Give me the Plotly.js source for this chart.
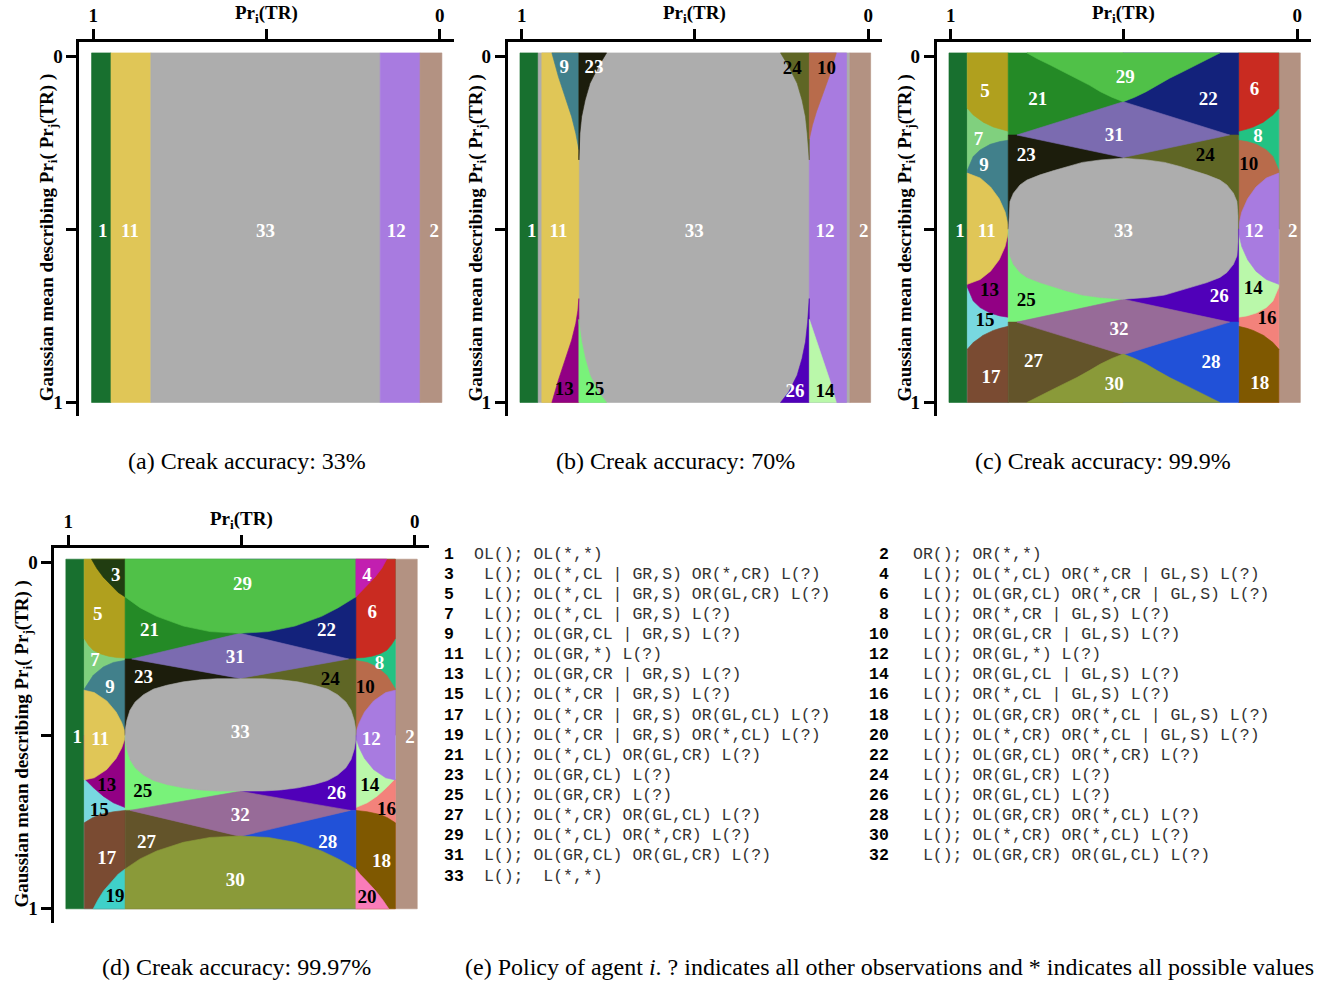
<!DOCTYPE html>
<html><head><meta charset="utf-8">
<script src="https://cdn.plot.ly/plotly-3.0.1.min.js"></script>
<style>html,body{margin:0;padding:0;background:#fff}#chart{width:1326px;height:985px}</style>
</head><body><div id="chart"></div>
<script>
// ================= DATA =================
// x = Pr_i(TR) (1 at left, 0 at right); y = Gaussian mean (0 at top, 1 at bottom)
const mapTop = -0.009, mapBottom = 1.0, midY = 0.5;
const xTickVals = [1, 0];
const xTickText = ['<b>1</b>', '<b>0</b>'];
const yTickVals = [0, 1];
const yTickText = ['<b>0</b>', '<b>1</b>'];
const midTickVals = [0.5];

const regionColor = {
  1:'#18702f', 2:'#b39282', 3:'#213d11', 4:'#c21fb0', 5:'#b0a01e', 6:'#c92b21', 7:'#80d07e',
  8:'#22c283', 9:'#41808b', 10:'#b86b4b', 11:'#e0c657', 12:'#a87be0', 13:'#920084', 14:'#baf8aa',
  15:'#78d8e0', 16:'#f3827b', 17:'#7a4b32', 18:'#7f5800', 19:'#3fd1c9', 20:'#f97cb9', 21:'#248a26',
  22:'#13227b', 23:'#1c1d0c', 24:'#5f6625', 25:'#79f27a', 26:'#5000b9', 27:'#63542a', 28:'#2151d8',
  29:'#50c148', 30:'#8a9a39', 31:'#7b6bb0', 32:'#976b98', 33:'#adadad'
};
const blackLabelIds = [10, 13, 14, 15, 16, 19, 20, 24, 25];

// ---- panel (a): Creak accuracy 33% ----
const a_edges = [1.005, 0.949, 0.834, 0.172, 0.057, -0.006];
const a_bandIds = [1, 11, 33, 12, 2];
const a_labelIds = [1, 11, 33, 12, 2];
const a_labelX = [0.973, 0.894, 0.503, 0.126, 0.016];
const a_labelY = [0.51, 0.51, 0.51, 0.51, 0.51];

// ---- panel (b): Creak accuracy 70% ----
const b_edges = [1.005, 0.954, 0.942, 0.835, 0.170, 0.0625, 0.053, -0.007];
const b_bandIds = [1, 33, 11, 33, 12, 33, 2];
const b_w9_x  = [0.835, 0.913, 0.894, 0.875, 0.856, 0.844, 0.838, 0.835];
const b_w9_y  = [-0.009, -0.009, 0.060, 0.117, 0.175, 0.223, 0.255, 0.270];
const b_w23_x = [0.835, 0.755, 0.779, 0.803, 0.817, 0.827, 0.832, 0.834, 0.835];
const b_w23_y = [-0.009, -0.009, 0.031, 0.079, 0.127, 0.175, 0.223, 0.265, 0.300];
const b_w24_x = [0.170, 0.253, 0.229, 0.205, 0.191, 0.181, 0.176, 0.172, 0.170];
const b_w24_y = [-0.009, -0.009, 0.031, 0.079, 0.127, 0.175, 0.223, 0.265, 0.300];
const b_w10_x = [0.170, 0.092, 0.111, 0.130, 0.149, 0.161, 0.167, 0.170];
const b_w10_y = [-0.009, -0.009, 0.055, 0.107, 0.160, 0.200, 0.225, 0.240];
const b_w13_x = [0.835, 0.913, 0.894, 0.875, 0.856, 0.844, 0.838, 0.835];
const b_w13_y = [1.0, 1.0, 0.935, 0.878, 0.820, 0.772, 0.735, 0.700];
const b_w25_x = [0.835, 0.755, 0.779, 0.803, 0.817, 0.827, 0.832, 0.835];
const b_w25_y = [1.0, 1.0, 0.969, 0.921, 0.873, 0.825, 0.790, 0.760];
const b_w26_x = [0.170, 0.253, 0.229, 0.205, 0.191, 0.181, 0.175, 0.172, 0.170];
const b_w26_y = [1.0, 1.0, 0.969, 0.921, 0.873, 0.825, 0.770, 0.730, 0.700];
const b_w14_x = [0.170, 0.092, 0.111, 0.130, 0.149, 0.161, 0.170];
const b_w14_y = [1.0, 1.0, 0.935, 0.878, 0.820, 0.790, 0.760];
const b_labelIds = [9, 23, 24, 10, 1, 11, 33, 12, 2, 13, 25, 26, 14];
const b_labelX = [0.877, 0.791, 0.219, 0.120, 0.971, 0.894, 0.502, 0.125, 0.013, 0.877, 0.789, 0.211, 0.125];
const b_labelY = [0.036, 0.036, 0.037, 0.037, 0.51, 0.51, 0.51, 0.51, 0.51, 0.965, 0.965, 0.971, 0.971];

// ---- panel (c): Creak accuracy 99.9% ----
const c_edges = [1.005, 0.952, 0.834, 0.169, 0.053, -0.009];
const c_centerX = 0.502, c_splitTop = 0.228, c_splitBottom = 0.768;
const c_arcA_x  = [0.952, 0.935, 0.906, 0.877, 0.858, 0.834];
const c_arcA_y  = [0.151, 0.170, 0.191, 0.205, 0.211, 0.217];
const c_arcB_x  = [0.952, 0.935, 0.915, 0.886, 0.858, 0.834];
const c_arcB_y  = [0.330, 0.290, 0.271, 0.255, 0.247, 0.243];
const c_arcC_y  = [0.667, 0.707, 0.726, 0.742, 0.750, 0.754];
const c_arcD_y  = [0.846, 0.827, 0.806, 0.792, 0.786, 0.780];
const c_arcA2_x = [0.053, 0.070, 0.098, 0.127, 0.145, 0.169];
const c_arcB2_x = [0.053, 0.070, 0.089, 0.118, 0.145, 0.169];
const c_lensL_x = [0.952, 0.915, 0.885, 0.860, 0.843, 0.835, 0.834, 0.835, 0.843, 0.860, 0.885, 0.915, 0.952];
const c_lensR_x = [0.053, 0.089, 0.119, 0.143, 0.160, 0.168, 0.169, 0.168, 0.160, 0.143, 0.119, 0.089, 0.053];
const c_lens_y  = [0.338, 0.352, 0.378, 0.412, 0.450, 0.485, 0.500, 0.515, 0.550, 0.588, 0.621, 0.645, 0.659];
const c_d31_x = [0.809, 0.502, 0.195, 0.502];
const c_d31_y = [0.228, 0.132, 0.228, 0.293];
const c_d32_x = [0.809, 0.502, 0.195, 0.502];
const c_d32_y = [0.768, 0.702, 0.768, 0.862];
const c_cap_x   = [0.780, 0.750, 0.713, 0.675, 0.636, 0.600, 0.568, 0.535, 0.502, 0.469, 0.436, 0.404, 0.368, 0.329, 0.290, 0.254, 0.223];
const c_cap29_y = [-0.009, 0.008, 0.026, 0.045, 0.064, 0.084, 0.103, 0.119, 0.132, 0.119, 0.103, 0.084, 0.064, 0.045, 0.026, 0.008, -0.009];
const c_cap30_y = [1.0, 0.984, 0.966, 0.947, 0.928, 0.908, 0.889, 0.873, 0.860, 0.873, 0.889, 0.908, 0.928, 0.947, 0.966, 0.984, 1.0];
const c_r33_x = [0.833,0.832,0.829,0.819,0.800,0.780,0.742,0.700,0.665,0.620,0.568,0.502,0.435,0.383,0.338,0.303,0.261,0.223,0.203,0.184,0.174,0.171,
                 0.170,0.171,0.174,0.184,0.203,0.223,0.261,0.303,0.338,0.383,0.435,0.502,0.568,0.620,0.665,0.700,0.742,0.780,0.800,0.819,0.829,0.832];
const c_r33_y = [0.500,0.460,0.420,0.396,0.372,0.358,0.343,0.330,0.319,0.307,0.300,0.295,0.300,0.307,0.319,0.330,0.343,0.358,0.372,0.396,0.420,0.460,
                 0.500,0.537,0.577,0.601,0.625,0.639,0.654,0.667,0.678,0.690,0.697,0.702,0.697,0.690,0.678,0.667,0.654,0.639,0.625,0.601,0.577,0.537];
const c_labelIds = [29, 5, 21, 22, 6, 7, 31, 8, 23, 24, 9, 10, 1, 11, 33, 12, 2, 13, 25, 26, 14, 15, 16, 32, 27, 28, 17, 30, 18];
const c_labelX = [0.496, 0.901, 0.749, 0.257, 0.123, 0.920, 0.528, 0.113, 0.782, 0.265, 0.904, 0.140, 0.973, 0.896, 0.501, 0.125, 0.013,
                  0.888, 0.782, 0.225, 0.127, 0.901, 0.087, 0.514, 0.761, 0.249, 0.884, 0.528, 0.108];
const c_labelY = [0.064, 0.106, 0.129, 0.127, 0.098, 0.242, 0.231, 0.235, 0.290, 0.290, 0.319, 0.316, 0.510, 0.510, 0.510, 0.510, 0.510,
                  0.680, 0.709, 0.697, 0.673, 0.766, 0.761, 0.792, 0.885, 0.886, 0.930, 0.949, 0.946];

// ---- panel (d): Creak accuracy 99.97% ----
const d_edges = [1.007, 0.954, 0.836, 0.170, 0.056, -0.007];
const d_centerX = 0.504, d_splitTop = 0.279, d_splitBottom = 0.716;
const d_arcA_x  = [0.954, 0.942, 0.928, 0.908, 0.884, 0.860, 0.836];
const d_arcA2_x = [0.056, 0.068, 0.081, 0.100, 0.124, 0.147, 0.170];
const d_arcA_y  = [0.220, 0.239, 0.254, 0.264, 0.271, 0.275, 0.276];
const d_arcB_x  = [0.954, 0.947, 0.928, 0.899, 0.870, 0.836];
const d_arcB2_x = [0.056, 0.063, 0.081, 0.109, 0.137, 0.170];
const d_arcB_y  = [0.366, 0.355, 0.326, 0.302, 0.289, 0.283];
const d_arcC_x  = [0.954, 0.928, 0.899, 0.870, 0.836];
const d_arcC2_x = [0.056, 0.081, 0.109, 0.137, 0.170];
const d_arcC_y  = [0.624, 0.650, 0.675, 0.694, 0.708];
const d_arcD_x  = [0.954, 0.930, 0.908, 0.870, 0.836];
const d_arcD2_x = [0.056, 0.079, 0.100, 0.137, 0.170];
const d_arcD_y  = [0.752, 0.737, 0.728, 0.720, 0.716];
const d_lensL_x = [0.954, 0.925, 0.889, 0.862, 0.846, 0.838, 0.836, 0.838, 0.846, 0.862, 0.889, 0.925, 0.954];
const d_lensR_x = [0.056, 0.084, 0.119, 0.145, 0.160, 0.168, 0.170, 0.168, 0.160, 0.145, 0.119, 0.084, 0.056];
const d_lens_y  = [0.369, 0.376, 0.400, 0.432, 0.462, 0.485, 0.499, 0.513, 0.536, 0.566, 0.598, 0.622, 0.628];
const d_topArc_x = [0.933, 0.918, 0.899, 0.875, 0.856, 0.836, 0.793, 0.745, 0.668, 0.591, 0.505, 0.423, 0.346, 0.269, 0.221, 0.177, 0.170, 0.158, 0.139, 0.115, 0.095, 0.081];
const d_topArc_y = [-0.009, 0.017, 0.043, 0.069, 0.087, 0.100, 0.131, 0.156, 0.184, 0.200, 0.205, 0.200, 0.184, 0.156, 0.131, 0.104, 0.100, 0.087, 0.069, 0.043, 0.017, -0.009];
const d_botArc_x = [0.928, 0.915, 0.898, 0.875, 0.856, 0.836, 0.793, 0.745, 0.668, 0.591, 0.505, 0.423, 0.346, 0.269, 0.221, 0.177, 0.170, 0.158, 0.139, 0.113, 0.092, 0.075];
const d_botArc_y = [1.0, 0.975, 0.948, 0.920, 0.900, 0.885, 0.856, 0.833, 0.808, 0.794, 0.790, 0.794, 0.808, 0.833, 0.856, 0.881, 0.885, 0.900, 0.920, 0.948, 0.975, 1.0];
const d_d31_x = [0.817, 0.504, 0.191, 0.504];
const d_d31_y = [0.279, 0.205, 0.279, 0.335];
const d_d32_x = [0.822, 0.504, 0.186, 0.504];
const d_d32_y = [0.716, 0.661, 0.716, 0.791];
const d_r33_x = [0.836,0.835,0.831,0.822,0.807,0.783,0.754,0.716,0.668,0.619,0.571,0.504,0.437,0.387,0.338,0.290,0.252,0.223,0.199,0.184,0.175,0.171,
                 0.170,0.171,0.175,0.184,0.199,0.223,0.252,0.290,0.338,0.387,0.437,0.504,0.571,0.619,0.668,0.716,0.754,0.783,0.807,0.822,0.831,0.835];
const d_r33_y = [0.499,0.480,0.456,0.427,0.403,0.382,0.366,0.355,0.345,0.339,0.336,0.335,0.336,0.339,0.345,0.355,0.366,0.382,0.403,0.427,0.456,0.480,
                 0.499,0.516,0.540,0.569,0.593,0.614,0.630,0.641,0.651,0.657,0.660,0.661,0.660,0.657,0.651,0.641,0.630,0.614,0.593,0.569,0.540,0.516];
const d_labelIds = [3, 29, 4, 5, 6, 21, 22, 31, 7, 8, 23, 24, 9, 10, 1, 11, 33, 12, 2, 13, 25, 26, 14, 15, 32, 16, 27, 28, 17, 18, 30, 19, 20];
const d_labelX = [0.863, 0.497, 0.138, 0.915, 0.123, 0.766, 0.255, 0.518, 0.923, 0.102, 0.783, 0.244, 0.880, 0.143, 0.974, 0.908, 0.504, 0.126, 0.014,
                  0.889, 0.785, 0.226, 0.130, 0.911, 0.504, 0.082, 0.774, 0.251, 0.889, 0.096, 0.518, 0.865, 0.138];
const d_labelY = [0.039, 0.066, 0.039, 0.152, 0.147, 0.200, 0.200, 0.276, 0.287, 0.294, 0.335, 0.340, 0.364, 0.364, 0.509, 0.513, 0.494, 0.513, 0.509,
                  0.645, 0.663, 0.668, 0.646, 0.719, 0.732, 0.716, 0.810, 0.810, 0.857, 0.865, 0.921, 0.966, 0.971];

// ---- captions and policy table ----
const captions = ['(a) Creak accuracy: 33%', '(b) Creak accuracy: 70%', '(c) Creak accuracy: 99.9%',
                  '(d) Creak accuracy: 99.97%', '(e) Policy of agent <i>i</i>. ? indicates all other observations and * indicates all possible values'];
const policyLeftIds = [1, 3, 5, 7, 9, 11, 13, 15, 17, 19, 21, 23, 25, 27, 29, 31, 33];
const policyLeftText = ['OL(); OL(*,*)', ' L(); OL(*,CL | GR,S) OR(*,CR) L(?)', ' L(); OL(*,CL | GR,S) OR(GL,CR) L(?)',
  ' L(); OL(*,CL | GR,S) L(?)', ' L(); OL(GR,CL | GR,S) L(?)', ' L(); OL(GR,*) L(?)', ' L(); OL(GR,CR | GR,S) L(?)',
  ' L(); OL(*,CR | GR,S) L(?)', ' L(); OL(*,CR | GR,S) OR(GL,CL) L(?)', ' L(); OL(*,CR | GR,S) OR(*,CL) L(?)',
  ' L(); OL(*,CL) OR(GL,CR) L(?)', ' L(); OL(GR,CL) L(?)', ' L(); OL(GR,CR) L(?)', ' L(); OL(*,CR) OR(GL,CL) L(?)',
  ' L(); OL(*,CL) OR(*,CR) L(?)', ' L(); OL(GR,CL) OR(GL,CR) L(?)', ' L();  L(*,*)'];
const policyRightIds = [2, 4, 6, 8, 10, 12, 14, 16, 18, 20, 22, 24, 26, 28, 30, 32];
const policyRightText = ['OR(); OR(*,*)', ' L(); OL(*,CL) OR(*,CR | GL,S) L(?)', ' L(); OL(GR,CL) OR(*,CR | GL,S) L(?)',
  ' L(); OR(*,CR | GL,S) L(?)', ' L(); OR(GL,CR | GL,S) L(?)', ' L(); OR(GL,*) L(?)', ' L(); OR(GL,CL | GL,S) L(?)',
  ' L(); OR(*,CL | GL,S) L(?)', ' L(); OL(GR,CR) OR(*,CL | GL,S) L(?)', ' L(); OL(*,CR) OR(*,CL | GL,S) L(?)',
  ' L(); OL(GR,CL) OR(*,CR) L(?)', ' L(); OR(GL,CR) L(?)', ' L(); OR(GL,CL) L(?)', ' L(); OL(GR,CR) OR(*,CL) L(?)',
  ' L(); OL(*,CR) OR(*,CL) L(?)', ' L(); OL(GR,CR) OR(GL,CL) L(?)'];

// ================= BUILD =================
const W = 1326, H = 985, S = 346.5;
const SERIF = 'Liberation Serif, Times New Roman, serif';
const MONO = 'Liberation Mono, Courier New, monospace';
const T = mapTop, B = mapBottom;
const traces = [];
function addPoly(ax, id, xs, ys) {
  traces.push({type:'scatter', mode:'lines', x: xs.concat([xs[0]]), y: ys.concat([ys[0]]),
    fill:'toself', fillcolor: regionColor[id], line:{color: regionColor[id], width:0.6},
    hoverinfo:'skip', showlegend:false, xaxis: ax.x, yaxis: ax.y});
}
function addRect(ax, id, x0, x1, y0, y1) { addPoly(ax, id, [x0, x1, x1, x0], [y0, y0, y1, y1]); }
function rev(a) { return a.slice().reverse(); }
function addLabels(ax, ids, xs, ys) {
  traces.push({type:'scatter', mode:'text', x: xs, y: ys, text: ids.map(i => '<b>' + i + '</b>'),
    textposition:'middle center', cliponaxis:false,
    textfont:{family: SERIF, size: 19, weight: 'bold', color: ids.map(i => blackLabelIds.includes(i) ? '#000' : '#fff')},
    hoverinfo:'skip', showlegend:false, xaxis: ax.x, yaxis: ax.y});
}
const axA = {x:'x', y:'y'}, axB = {x:'x2', y:'y2'}, axC = {x:'x3', y:'y3'}, axD = {x:'x4', y:'y4'};

// (a)
a_bandIds.forEach((id, k) => addRect(axA, id, a_edges[k], a_edges[k + 1], T, B));
addLabels(axA, a_labelIds, a_labelX, a_labelY);

// (b)
addRect(axB, 33, b_edges[1], b_edges[6], T, B);
b_bandIds.forEach((id, k) => { if (id !== 33) addRect(axB, id, b_edges[k], b_edges[k + 1], T, B); });
addPoly(axB, 9, b_w9_x, b_w9_y);   addPoly(axB, 23, b_w23_x, b_w23_y);
addPoly(axB, 24, b_w24_x, b_w24_y); addPoly(axB, 10, b_w10_x, b_w10_y);
addPoly(axB, 13, b_w13_x, b_w13_y); addPoly(axB, 25, b_w25_x, b_w25_y);
addPoly(axB, 26, b_w26_x, b_w26_y); addPoly(axB, 14, b_w14_x, b_w14_y);
addLabels(axB, b_labelIds, b_labelX, b_labelY);

// (c)
(function () {
  const E = c_edges, ax = axC, cx = c_centerX;
  addRect(ax, 1, E[0], E[1], T, B); addRect(ax, 2, E[4], E[5], T, B);
  addRect(ax, 7, E[1], E[2], T, midY); addRect(ax, 15, E[1], E[2], midY, B);
  addPoly(ax, 5, [E[1], E[2]].concat(rev(c_arcA_x)), [T, T].concat(rev(c_arcA_y)));
  addPoly(ax, 9, c_arcB_x.concat([E[2], E[1]]), c_arcB_y.concat([midY, midY]));
  addPoly(ax, 13, [E[1], E[2]].concat(rev(c_arcB_x)), [midY, midY].concat(rev(c_arcC_y)));
  addPoly(ax, 17, c_arcA_x.concat([E[2], E[1]]), c_arcD_y.concat([B, B]));
  addPoly(ax, 11, c_lensL_x, c_lens_y);
  addRect(ax, 8, E[3], E[4], T, midY); addRect(ax, 16, E[3], E[4], midY, B);
  addPoly(ax, 6, [E[3], E[4]].concat(c_arcA2_x), [T, T].concat(c_arcA_y));
  addPoly(ax, 10, c_arcB2_x.concat([E[3], E[4]]), c_arcB_y.concat([midY, midY]));
  addPoly(ax, 14, [E[3], E[4]].concat(c_arcB2_x), [midY, midY].concat(c_arcC_y));
  addPoly(ax, 18, c_arcA2_x.concat([E[3], E[4]]), c_arcD_y.concat([B, B]));
  addPoly(ax, 12, c_lensR_x, c_lens_y);
  addRect(ax, 21, E[2], cx, T, c_splitTop); addRect(ax, 23, E[2], cx, c_splitTop, midY);
  addRect(ax, 22, cx, E[3], T, c_splitTop); addRect(ax, 24, cx, E[3], c_splitTop, midY);
  addRect(ax, 25, E[2], cx, midY, c_splitBottom); addRect(ax, 27, E[2], cx, c_splitBottom, B);
  addRect(ax, 26, cx, E[3], midY, c_splitBottom); addRect(ax, 28, cx, E[3], c_splitBottom, B);
  addPoly(ax, 31, c_d31_x, c_d31_y); addPoly(ax, 32, c_d32_x, c_d32_y);
  addPoly(ax, 29, c_cap_x, c_cap29_y); addPoly(ax, 30, c_cap_x, c_cap30_y);
  addPoly(ax, 33, c_r33_x, c_r33_y);
  addLabels(ax, c_labelIds, c_labelX, c_labelY);
})();

// (d)
(function () {
  const E = d_edges, ax = axD, cx = d_centerX;
  function slice(xs, ys, lo, hi) {
    const ox = [], oy = [];
    xs.forEach((v, k) => { if (v <= hi + 1e-9 && v >= lo - 1e-9) { ox.push(v); oy.push(ys[k]); } });
    return [ox, oy];
  }
  addRect(ax, 1, E[0], E[1], T, B); addRect(ax, 2, E[4], E[5], T, B);
  addRect(ax, 7, E[1], E[2], T, midY); addRect(ax, 15, E[1], E[2], midY, B);
  addPoly(ax, 5, [E[1], E[2]].concat(rev(d_arcA_x)), [T, T].concat(rev(d_arcA_y)));
  addPoly(ax, 9, d_arcB_x.concat([E[2], E[1]]), d_arcB_y.concat([midY, midY]));
  addPoly(ax, 13, [E[1], E[2]].concat(rev(d_arcC_x)), [midY, midY].concat(rev(d_arcC_y)));
  addPoly(ax, 17, d_arcD_x.concat([E[2], E[1]]), d_arcD_y.concat([B, B]));
  addPoly(ax, 11, d_lensL_x, d_lens_y);
  addRect(ax, 8, E[3], E[4], T, midY); addRect(ax, 16, E[3], E[4], midY, B);
  addPoly(ax, 6, [E[3], E[4]].concat(d_arcA2_x), [T, T].concat(d_arcA_y));
  addPoly(ax, 10, d_arcB2_x.concat([E[3], E[4]]), d_arcB_y.concat([midY, midY]));
  addPoly(ax, 14, [E[3], E[4]].concat(d_arcC2_x), [midY, midY].concat(d_arcC_y));
  addPoly(ax, 18, d_arcD2_x.concat([E[3], E[4]]), d_arcD_y.concat([B, B]));
  addPoly(ax, 12, d_lensR_x, d_lens_y);
  addRect(ax, 21, E[2], cx, T, d_splitTop); addRect(ax, 23, E[2], cx, d_splitTop, midY);
  addRect(ax, 22, cx, E[3], T, d_splitTop); addRect(ax, 24, cx, E[3], d_splitTop, midY);
  addRect(ax, 25, E[2], cx, midY, d_splitBottom); addRect(ax, 27, E[2], cx, d_splitBottom, B);
  addRect(ax, 26, cx, E[3], midY, d_splitBottom); addRect(ax, 28, cx, E[3], d_splitBottom, B);
  addPoly(ax, 31, d_d31_x, d_d31_y); addPoly(ax, 32, d_d32_x, d_d32_y);
  let s = slice(d_topArc_x, d_topArc_y, E[2], 2);
  addPoly(ax, 3, s[0].concat([E[2]]), s[1].concat([T]));
  s = slice(d_topArc_x, d_topArc_y, E[3], E[2]);
  addPoly(ax, 29, s[0].concat([E[3], E[2]]), s[1].concat([T, T]));
  s = slice(d_topArc_x, d_topArc_y, -1, E[3]);
  addPoly(ax, 4, s[0].concat([E[3]]), s[1].concat([T]));
  s = slice(d_botArc_x, d_botArc_y, E[2], 2);
  addPoly(ax, 19, s[0].concat([E[2]]), s[1].concat([B]));
  s = slice(d_botArc_x, d_botArc_y, E[3], E[2]);
  addPoly(ax, 30, s[0].concat([E[3], E[2]]), s[1].concat([B, B]));
  s = slice(d_botArc_x, d_botArc_y, -1, E[3]);
  addPoly(ax, 20, s[0].concat([E[3]]), s[1].concat([B]));
  addPoly(ax, 33, d_r33_x, d_r33_y);
  addLabels(ax, d_labelIds, d_labelX, d_labelY);
})();

// ---- axes ----
const panelOrigin = [[93.3, 56], [521.7, 56], [950.7, 56], [68.3, 562.3]]; // pixel position of (x=1, y=0)
const layout = {width: W, height: H, margin:{l:0, r:0, t:0, b:0}, paper_bgcolor:'#fff', plot_bgcolor:'#fff',
  showlegend:false, annotations: []};
const axisCommon = {range:[1.04, -0.04], showline:true, linewidth:3, linecolor:'#000', ticks:'outside', ticklen:10,
  tickwidth:3, tickcolor:'#000', showgrid:false, zeroline:false, fixedrange:true,
  minor:{tickvals: midTickVals, ticks:'outside', ticklen:10, tickwidth:3, tickcolor:'#000', showgrid:false},
  tickfont:{family: SERIF, size: 19, color:'#000'}};
panelOrigin.forEach((o, k) => {
  const n = k === 0 ? '' : String(k + 1);
  const x0 = o[0] - 0.04 * S, x1 = o[0] + 1.04 * S, y0 = o[1] - 0.04 * S, y1 = o[1] + 1.04 * S;
  layout['xaxis' + n] = Object.assign({}, axisCommon, {domain:[x0 / W, x1 / W], anchor:'y' + n, side:'top',
    tickvals: xTickVals, ticktext: xTickText});
  layout['yaxis' + n] = Object.assign({}, axisCommon, {domain:[1 - y1 / H, 1 - y0 / H], anchor:'x' + n, side:'left',
    tickvals: yTickVals, ticktext: yTickText});
  layout.annotations.push({xref:'x' + n, yref:'paper', x:0.5, y: 1 - (o[1] - 42) / H, xanchor:'center', yanchor:'middle',
    text:'<b>Pr<sub>i</sub>(TR)</b>', showarrow:false, font:{family: SERIF, size: 19, color:'#000'}});
  layout.annotations.push({xref:'paper', yref:'y' + n, x: (o[0] - 45) / W, y: 0.525, xanchor:'center', yanchor:'middle',
    textangle:-90, text:'<b>Gaussian mean describing Pr<sub>i</sub>( Pr<sub>j</sub>(TR) )</b>', showarrow:false,
    font:{family: SERIF, size: 19, color:'#000'}});
});
const captionPos = [[247, 461], [675, 461], [1103, 461], [236, 967], [890, 967]];
captions.forEach((c, k) => layout.annotations.push({xref:'paper', yref:'paper', x: captionPos[k][0] / W,
  y: 1 - captionPos[k][1] / H, xanchor:'center', yanchor:'middle', text: c, showarrow:false,
  font:{family: SERIF, size: 24, color:'#000'}}));
const nb = s => s.replace(/ /g, '\u00a0');
const rowY0 = 554, rowDy = 20.13;
policyLeftIds.forEach((id, k) => {
  const y = 1 - (rowY0 + k * rowDy) / H;
  layout.annotations.push({xref:'paper', yref:'paper', x: 442 / W, y, xanchor:'left', yanchor:'middle',
    text:'<b>' + id + '</b>', showarrow:false, font:{family: MONO, size: 16.5, color:'#000'}});
  layout.annotations.push({xref:'paper', yref:'paper', x: 472 / W, y, xanchor:'left', yanchor:'middle',
    text: nb(policyLeftText[k]), showarrow:false, font:{family: MONO, size: 16.5, color:'#333'}});
});
policyRightIds.forEach((id, k) => {
  const y = 1 - (rowY0 + k * rowDy) / H;
  layout.annotations.push({xref:'paper', yref:'paper', x: 891 / W, y, xanchor:'right', yanchor:'middle',
    text:'<b>' + id + '</b>', showarrow:false, font:{family: MONO, size: 16.5, color:'#000'}});
  layout.annotations.push({xref:'paper', yref:'paper', x: 911 / W, y, xanchor:'left', yanchor:'middle',
    text: nb(policyRightText[k]), showarrow:false, font:{family: MONO, size: 16.5, color:'#333'}});
});

Plotly.newPlot('chart', traces, layout, {staticPlot: true, displayModeBar: false});
</script></body></html>
